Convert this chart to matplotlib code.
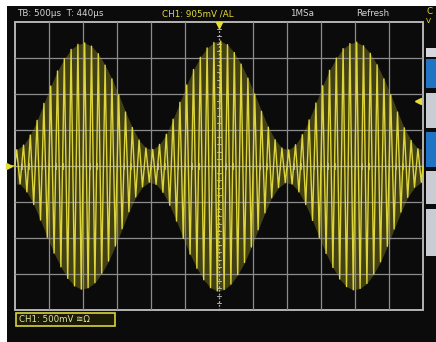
import numpy as np
import matplotlib
matplotlib.use("Agg")
import matplotlib.pyplot as plt
from matplotlib.patches import Rectangle

# screen: 12 x 8 divisions, values in divisions (500 mV/div, 500 us/div)
n_cycles = 60
# upper peaks of each carrier cycle (div)
top_peaks = [0.45, 0.58, 0.86, 1.27, 1.74, 2.22, 2.64, 2.98, 3.24, 3.38,
             3.42, 3.33, 3.12, 2.80, 2.42, 1.98, 1.50, 1.07, 0.72, 0.50,
             0.46, 0.60, 0.88, 1.30, 1.77, 2.25, 2.68, 3.02, 3.28, 3.43,
             3.47, 3.37, 3.15, 2.83, 2.44, 2.00, 1.52, 1.08, 0.73, 0.50,
             0.45, 0.59, 0.87, 1.28, 1.75, 2.23, 2.66, 3.00, 3.26, 3.40,
             3.44, 3.34, 3.13, 2.81, 2.42, 1.98, 1.50, 1.06, 0.71, 0.48]
# lower peaks of each carrier cycle (div)
bot_peaks = [0.50, 0.72, 1.07, 1.50, 1.98, 2.42, 2.80, 3.12, 3.33, 3.42,
             3.38, 3.24, 2.98, 2.64, 2.22, 1.74, 1.27, 0.86, 0.58, 0.45,
             0.51, 0.73, 1.09, 1.53, 2.01, 2.45, 2.84, 3.16, 3.38, 3.47,
             3.43, 3.28, 3.02, 2.68, 2.25, 1.77, 1.30, 0.88, 0.60, 0.46,
             0.50, 0.72, 1.07, 1.51, 1.99, 2.43, 2.82, 3.14, 3.35, 3.44,
             3.40, 3.26, 3.00, 2.66, 2.23, 1.75, 1.28, 0.87, 0.59, 0.45]
trig_level = 905 / 500.0   # div

W, H = 436, 342
fig = plt.figure(figsize=(W / 100, H / 100), dpi=100, facecolor="white")

def fx(x):
    return x / W

def fy(y):
    return 1 - y / H

def prect(x0, y0, x1, y1, z=-5, **kw):
    r = Rectangle((fx(x0), fy(y1)), fx(x1) - fx(x0), fy(y0) - fy(y1),
                  transform=fig.transFigure, zorder=z, **kw)
    fig.add_artist(r)

# black screen
prect(7, 6, W + 2, H + 2, facecolor="#0b0b0c", edgecolor="none", z=-10)

# side menu buttons (cut off on the right)
for y0, y1, c in [(48, 57, "#d6d8de"), (59, 88, "#1f74c4"), (93, 128, "#c9ccd3"),
                  (132, 167, "#1f74c4"), (171, 204, "#c9ccd3"), (209, 256, "#c9ccd3")]:
    prect(426, y0, W + 2, y1, facecolor=c, edgecolor="none")

ax = fig.add_axes([fx(15), fy(310), fx(423) - fx(15), fy(22) - fy(310)])
ax.set_facecolor("none")
ax.set_xlim(0, 12)
ax.set_ylim(-4, 4)
ax.set_xticks([])
ax.set_yticks([])
for s in ax.spines.values():
    s.set_visible(False)

gcol = "#8c8c8c"
for i in range(1, 12):
    if i != 6:
        ax.axvline(i, color=gcol, lw=0.9, zorder=3.5)
for j in range(-3, 4):
    if j != 0:
        ax.axhline(j, color=gcol, lw=0.9, zorder=3.5)
# centre lines with sub-division ticks
ax.axvline(6, color="#b0b0b0", lw=0.9, ls=(0, (1.5, 1.5)), zorder=3.5)
ax.axhline(0, color="#a0a0a0", lw=0.9, zorder=3.5)
for v in np.arange(-3.8, 3.81, 0.2):
    ax.plot([5.95, 6.05], [v, v], color="#c4c4c4", lw=0.6, zorder=3.5)
for u in np.arange(0.2, 11.81, 0.2):
    ax.plot([u, u], [-0.08, 0.08], color="#c4c4c4", lw=0.6, zorder=3.5)
# border
ax.add_patch(Rectangle((0, -4), 12, 8, fill=False, edgecolor="#b4b4b4", lw=1.4,
                       zorder=2, clip_on=False))

# trace: zigzag through read peaks
period = 12.0 / n_cycles
xs, ys = [-0.2, 0.0], [0.0, 0.0]
for k in range(n_cycles):
    xs += [(k + 0.25) * period, (k + 0.75) * period]
    ys += [top_peaks[k], -bot_peaks[k]]
xs.append(12.0)
ys.append(0.0)
xs = np.array(xs)
ys = np.array(ys)

tx = xs[2:-1:2]
bx = xs[3:-1:2]
env_x = xs[2:-1]
ax.fill_between(env_x, np.interp(env_x, tx, top_peaks),
                -np.interp(env_x, bx, bot_peaks),
                color="#5c5816", alpha=0.7, lw=0, zorder=3)
ax.plot(xs, ys, color="#dcd53c", lw=1.0, zorder=4, clip_on=False)

# markers
ax.plot([6], [3.93], marker="v", ms=4, color="#e4de3a", clip_on=False, zorder=5)
ax.plot([11.85], [trig_level], marker="<", ms=4, color="#e4de3a", clip_on=False, zorder=5)
ax.plot([-0.17], [0.0], marker=">", ms=4, color="#e4de3a", clip_on=False, zorder=5)

# header texts
fs = 6.3
fig.text(fx(17), fy(14), "TB: 500µs  T: 440µs", color="#d4d4d4", fontsize=fs, va="center")
fig.text(fx(162), fy(14), "CH1: 905mV /AL", color="#e2dc3c", fontsize=fs, va="center")
fig.text(fx(290), fy(14), "1MSa", color="#d4d4d4", fontsize=fs, va="center")
fig.text(fx(356), fy(14), "Refresh", color="#d4d4d4", fontsize=fs, va="center")
fig.text(fx(426), fy(12), "C", color="#e2dc3c", fontsize=fs, va="center")
fig.text(fx(426), fy(21), "V", color="#e2dc3c", fontsize=fs - 1, va="center")

# channel box
prect(16, 313, 115, 326, facecolor="#1a1a06", edgecolor="#d8d23a", lw=1.2, z=5)
fig.text(fx(19), fy(319.5), "CH1: 500mV \u2245\u03a9", color="#e8e49a", fontsize=fs - 0.1,
         va="center", zorder=6)

fig.savefig("out.png", dpi=100, facecolor=fig.get_facecolor())
